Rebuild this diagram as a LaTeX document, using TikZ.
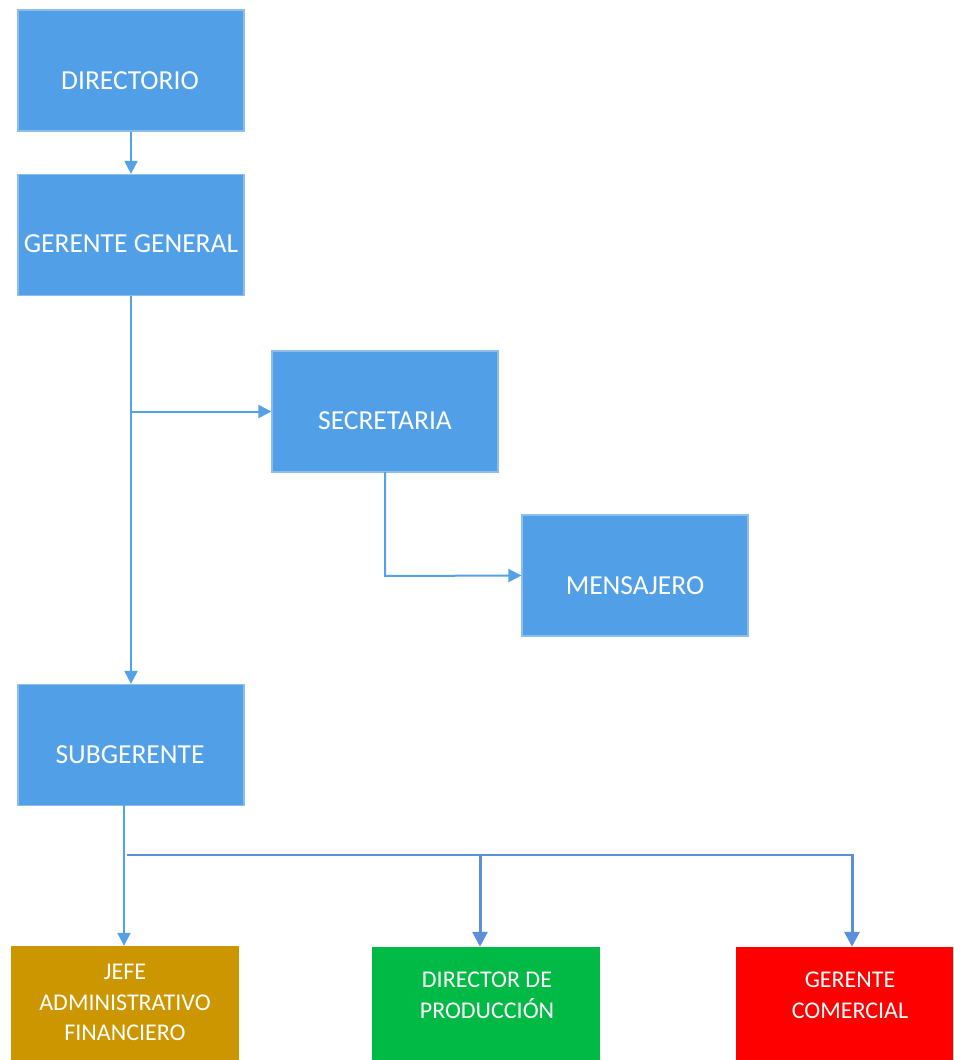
\documentclass[tikz,border=0pt]{standalone}
\usepackage{fontspec}
\setmainfont{Carlito}
\usetikzlibrary{arrows.meta,calc}
\definecolor{boxblue}{HTML}{519FE7}
\definecolor{edgeblue}{HTML}{8CBDEB}
\definecolor{lineblue}{HTML}{55A1E8}
\definecolor{darkline}{HTML}{5B8FDC}
\definecolor{gold}{HTML}{CC9600}
\definecolor{grn}{HTML}{00BA45}
\definecolor{rd}{HTML}{FF0000}
\tikzset{
  bluebox/.style={draw=edgeblue,line width=1.2pt,fill=boxblue,minimum width=226pt,minimum height=121pt,inner sep=0pt},
  colbox/.style={fill=#1,minimum width=228pt,minimum height=121pt,inner sep=0pt},
  bluelbl/.style={text=white,font=\fontsize{27.5}{32}\selectfont},
  botlbl/.style={text=white,font=\fontsize{24}{30.5}\selectfont,align=center},
  conn/.style={draw=lineblue,line width=2pt},
  arr/.style={conn,-{Triangle[width=13pt,length=13pt]}},
  darr/.style={draw=darkline,line width=3pt,-{Triangle[width=15pt,length=15pt]}},
}
\begin{document}
\begin{tikzpicture}[x=1pt,y=-1pt]
\clip (0,0) rectangle (953,1060);
\fill[white] (0,0) rectangle (953,1060);
% blue boxes
\node[bluebox] (dir) at (131,70.5) {};
\node[bluelbl] (dirl) at (130,81) {DIRECTORIO};
\node[bluebox] (gg) at (131,235) {};
\node[bluelbl] (ggl) at (131,244) {GERENTE GENERAL};
\node[bluebox] (sec) at (385,411.5) {};
\node[bluelbl] (secl) at (385,421) {SECRETARIA};
\node[bluebox] (men) at (635,575.5) {};
\node[bluelbl] (menl) at (635,586) {MENSAJERO};
\node[bluebox] (sub) at (131,745) {};
\node[bluelbl] (subl) at (130,755) {SUBGERENTE};
% bottom boxes
\node[colbox=gold] (jefe) at (125,1006.5) {};
\node[botlbl] (jefel) at (125,1002.5) {JEFE\\ADMINISTRATIVO\\FINANCIERO};
\node[colbox=grn] (dp) at (486,1007.5) {};
\node[botlbl] (dpl) at (487,995.5) {DIRECTOR DE\\PRODUCCIÓN};
\node[colbox=rd,minimum width=240pt] (gc) at (856,1007.5) {};
\node[botlbl] (gcl) at (850,995.5) {GERENTE\\COMERCIAL};
% connectors
\draw[arr] (dir.south) -- (gg.north);
\draw[arr] (gg.south) -- (sub.north);
\coordinate (br) at (131,411.5);
\draw[arr] (br) -- (sec.west);
\coordinate (sc) at (385,472);
\coordinate (corner) at (385,576);
\draw[arr] (sc) -- (corner) -- (men.west);
\coordinate (sb) at (124,805);
\draw[arr] (sb) -- (sb |- jefe.north);
\coordinate (hl) at (127,855);
\coordinate (hr) at (853,855);
\draw[draw=darkline,line width=1.6pt] (hl) -- (hr);
\coordinate (d1) at (480,854);
\coordinate (d2) at (852,854);
\draw[darr] (d1) -- (d1 |- dp.north);
\draw[darr] (d2) -- (d2 |- gc.north);
\end{tikzpicture}
\end{document}
